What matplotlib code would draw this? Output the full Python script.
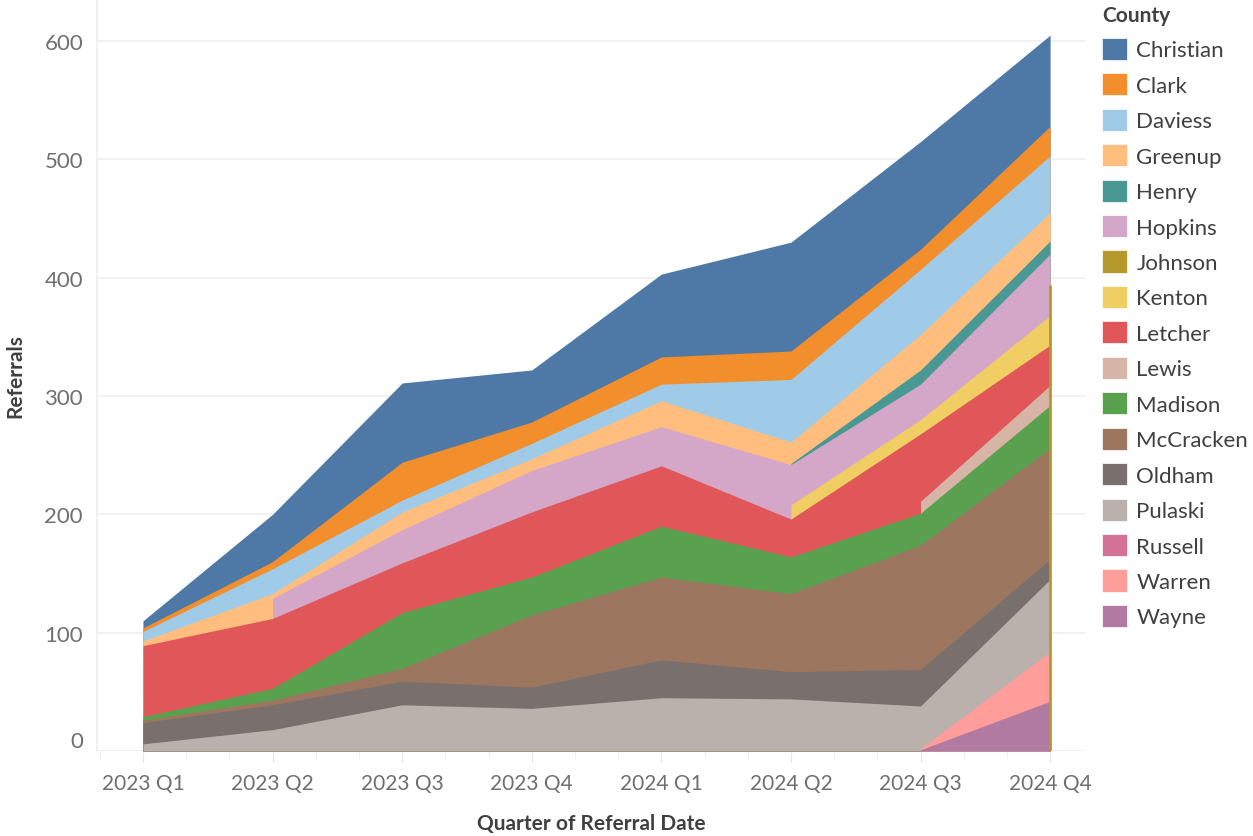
import numpy as np
import matplotlib.pyplot as plt
from matplotlib.patches import Patch

plt.rcParams["font.family"] = ["Lato", "DejaVu Sans"]

quarters = ["2023 Q1", "2023 Q2", "2023 Q3", "2023 Q4",
            "2024 Q1", "2024 Q2", "2024 Q3", "2024 Q4"]
nan = np.nan

# referrals per county per quarter (nan = no referrals recorded)
christian = [6, 40, 67, 44, 70, 92, 91, 77]
clark = [3, 6, 32, 18, 23, 24, 17, 25]
daviess = [8, 21, 10, 13, 14, 53, 55, 48]
greenup = [4, 4, 15, 10, 22, 18, 30, 24]
henry = [nan, nan, nan, nan, nan, 1, 12, 11]
hopkins = [nan, 17, 28, 35, 33, 34, 30, 26]
johnson = [nan, nan, nan, nan, nan, nan, nan, 26]
kenton = [nan, nan, nan, nan, nan, 12, 12, 25]
letcher = [60, 59, 42, 55, 51, 32, 57, 34]
lewis = [nan, nan, nan, nan, nan, nan, 10, 17]
madison = [3, 10, 47, 32, 43, 31, 27, 36]
mccracken = [2, 4, 11, 61, 70, 66, 105, 94]
oldham = [18, 21, 20, 18, 32, 23, 31, 17]
pulaski = [6, 18, 39, 36, 45, 44, 36, 61]
russell = [nan] * 8
warren = [nan, nan, nan, nan, nan, nan, 1, 42]
wayne = [nan, nan, nan, nan, nan, nan, 1, 42]

counties = ["Christian", "Clark", "Daviess", "Greenup", "Henry", "Hopkins",
            "Johnson", "Kenton", "Letcher", "Lewis", "Madison", "McCracken",
            "Oldham", "Pulaski", "Russell", "Warren", "Wayne"]
series = [christian, clark, daviess, greenup, henry, hopkins, johnson, kenton,
          letcher, lewis, madison, mccracken, oldham, pulaski, russell,
          warren, wayne]
colors = ["#4E79A7", "#F28E2B", "#A0CBE8", "#FFBE7D", "#499894", "#D4A6C8",
          "#B6992D", "#F1CE63", "#E15759", "#D7B5A6", "#59A14F", "#9D7660",
          "#79706E", "#BAB0AC", "#D37295", "#FF9D9A", "#B07AA1"]

x = np.arange(len(quarters))
vals = np.array(series, dtype=float)

# stack from the bottom of the list (Wayne) upward
cum = np.cumsum(np.nan_to_num(vals)[::-1], axis=0)[::-1]

fig = plt.figure(figsize=(12.53, 8.37), dpi=100)
ax = fig.add_axes([0.0774, 0.1016, 0.7886, 0.8984])

# tableau style: each area from 0 to its stacked top, top series drawn first
for i, (name, col) in enumerate(zip(counties, colors)):
    valid = ~np.isnan(vals[i])
    if valid.sum() == 0:
        continue
    ax.fill_between(x, 0, cum[i], where=valid, color=col, lw=0, zorder=2 + i * 0.01)
    if valid.sum() == 1:
        xi = x[valid][0]
        ax.vlines(xi, 0, cum[i][valid][0], color=col, lw=2, zorder=4)

ax.set_xlim(-0.355, 7.27)
ax.set_ylim(0, 635.5)
ax.set_yticks(range(0, 700, 100))
ax.set_xticks(x)
ax.set_xticklabels(quarters)
ax.set_xticks(np.arange(-0.333, 7.3, 1 / 3), minor=True)

ax.grid(axis="y", color="#efefef", lw=1.2, zorder=0)
for s in ["top", "right", "bottom"]:
    ax.spines[s].set_visible(False)
ax.spines["left"].set_color("#eeeeee")
ax.spines["left"].set_linewidth(1.2)
ax.axhline(0, color="#e6e6e6", lw=1.2, zorder=1)

ax.tick_params(axis="y", length=0, pad=10, labelsize=16, labelcolor="#6f6f6f")
ax.tick_params(axis="x", which="major", length=8, color="#e0e0e0", pad=8,
               labelsize=15, labelcolor="#6f6f6f")
ax.tick_params(axis="x", which="minor", length=5, color="#eeeeee")
ax.get_yticklabels()[0].set_va("bottom")

ax.set_xlabel("Quarter of Referral Date", fontsize=15, fontweight="bold",
              color="#404040", labelpad=14)
ax.set_ylabel("Referrals", fontsize=15, fontweight="bold", color="#404040",
              labelpad=14)

handles = [Patch(facecolor=c, edgecolor="white", lw=0.5) for c in colors]
leg = fig.legend(handles, counties, title="County", loc="upper left",
                 bbox_to_anchor=(1093 / 1253, 1 + 3 / 837), frameon=False,
                 fontsize=16, handlelength=1.15, handleheight=1.15,
                 handletextpad=0.4, labelspacing=0.58, borderaxespad=0,
                 alignment="left", title_fontproperties={"weight": "bold", "size": 15})
leg.get_title().set_color("#404040")
for t in leg.get_texts():
    t.set_color("#404040")

fig.savefig("out.png", dpi=100)
